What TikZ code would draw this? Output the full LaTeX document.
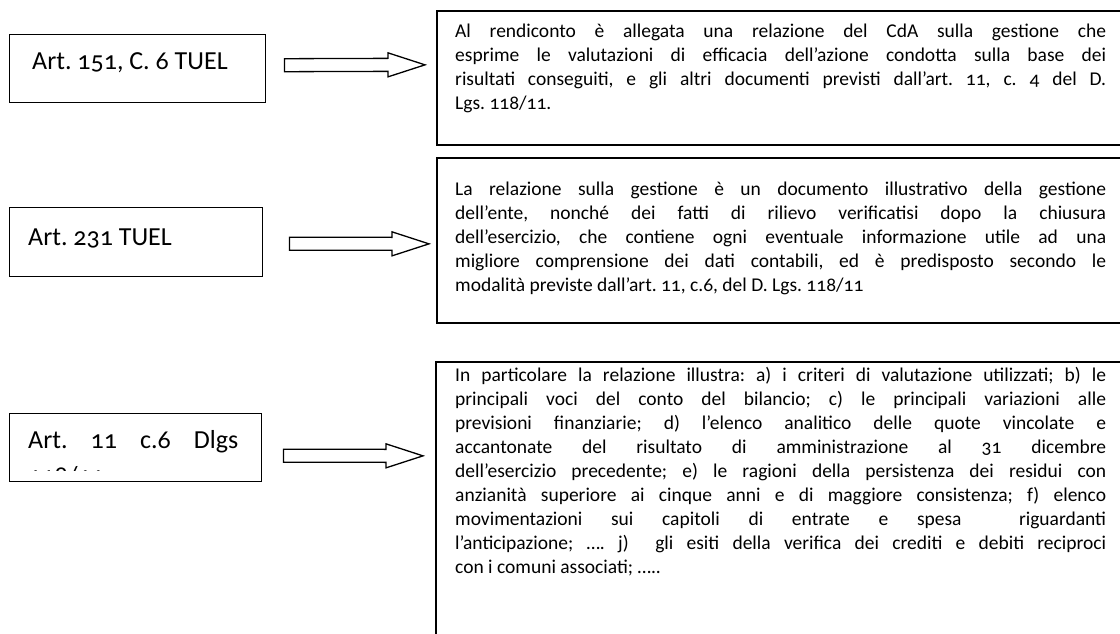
\documentclass[tikz,border=0pt]{standalone}
\usepackage{fontspec}
\setmainfont{Carlito}[Numbers=OldStyle]
\usetikzlibrary{calc}
\frenchspacing
\tikzset{
  lbox/.style={draw, line width=1.4pt, anchor=north west, inner sep=0pt},
  rbox/.style={draw, line width=1.7pt, anchor=north west, inner sep=0pt},
  ltext/.style={anchor=base west, inner sep=0pt, font=\fontsize{26}{32}\selectfont},
  rtext/.style={anchor=base west, inner sep=0pt},
  barrow/.style={draw, line width=1.3pt, fill=white, line join=miter}
}
\newcommand{\rpar}[1]{\parbox[t]{651pt}{\fontsize{19.5}{24}\selectfont\frenchspacing #1}}
\begin{document}
\begin{tikzpicture}[x=1pt,y=-1pt]
\useasboundingbox (0,0) rectangle (1120,634);
\clip (0,0) rectangle (1120,634);

% left boxes
\node[lbox, minimum width=256pt, minimum height=68pt] (l1) at (9,34) {};
\node[ltext] (lt1) at (32,70) {Art. 151, C. 6 TUEL};
\node[lbox, minimum width=253pt, minimum height=69pt] (l2) at (9,207) {};
\node[ltext] (lt2) at (28,245) {Art. 231 TUEL};
\node[lbox, minimum width=252pt, minimum height=68pt] (l3) at (9,413) {};
\begin{scope}
\clip (9,413) rectangle (261,470);
\node[ltext] (lt3) at (28,448) {\parbox[t]{210pt}{\fontsize{26}{36}\selectfont\frenchspacing\makebox[210pt][s]{Art. 11 c.6 Dlgs}\\118/11}};
\end{scope}

% right boxes
\node[rbox, minimum width=700pt, minimum height=134pt] (r1) at (436,10) {};
\node[rtext] (rt1) at (455,38) {\rpar{Al rendiconto è allegata una relazione del CdA sulla gestione che\linebreak
esprime le valutazioni di efficacia dell’azione condotta sulla base dei\linebreak
risultati conseguiti, e gli altri documenti previsti dall’art. 11, c. 4 del D.\linebreak
Lgs. 118/11.}};

\node[rbox, minimum width=700pt, minimum height=165pt] (r2) at (436,157) {};
\node[rtext] (rt2) at (455,195) {\rpar{La relazione sulla gestione è un documento illustrativo della gestione\linebreak
dell’ente, nonché dei fatti di rilievo verificatisi dopo la chiusura\linebreak
dell’esercizio, che contiene ogni eventuale informazione utile ad una\linebreak
migliore comprensione dei dati contabili, ed è predisposto secondo le\linebreak
modalità previste dall’art. 11, c.6, del D. Lgs. 118/11}};

\node[rbox, minimum width=700pt, minimum height=300pt] (r3) at (435,361) {};
\node[rtext] (rt3) at (455,381) {\rpar{In particolare la relazione illustra: a) i criteri di valutazione utilizzati; b) le\linebreak
principali voci del conto del bilancio; c) le principali variazioni alle\linebreak
previsioni finanziarie; d) l’elenco analitico delle quote vincolate e\linebreak
accantonate del risultato di amministrazione al 31 dicembre\linebreak
dell’esercizio precedente; e) le ragioni della persistenza dei residui con\linebreak
anzianità superiore ai cinque anni e di maggiore consistenza; f) elenco\linebreak
movimentazioni sui capitoli di entrate e spesa \ riguardanti\linebreak
l’anticipazione; …. j) \ gli esiti della verifica dei crediti e debiti reciproci\linebreak
con i comuni associati; …..}};

% block arrows
\coordinate (a1s) at ($(l1.east)+(18,-3.5)$);
\coordinate (a1t) at ($(r1.west)+(-11,-13)$);
\coordinate (a2s) at ($(l2.east)+(26,1.5)$);
\coordinate (a2t) at ($(r2.west)+(-7,3.5)$);
\coordinate (a3s) at ($(l3.east)+(21,8)$);
\coordinate (a3t) at ($(r3.west)+(-12,-56)$);
\foreach \s/\t in {a1s/a1t, a2s/a2t, a3s/a3t}{
  \draw[barrow] ($(\s)+(0,-6.5)$) -- ($(\t)+(-37,-6.5)$) -- ($(\t)+(-37,-12)$) -- (\t)
    -- ($(\t)+(-37,12)$) -- ($(\t)+(-37,6.5)$) -- ($(\s)+(0,6.5)$) -- cycle;
}
\end{tikzpicture}
\end{document}
